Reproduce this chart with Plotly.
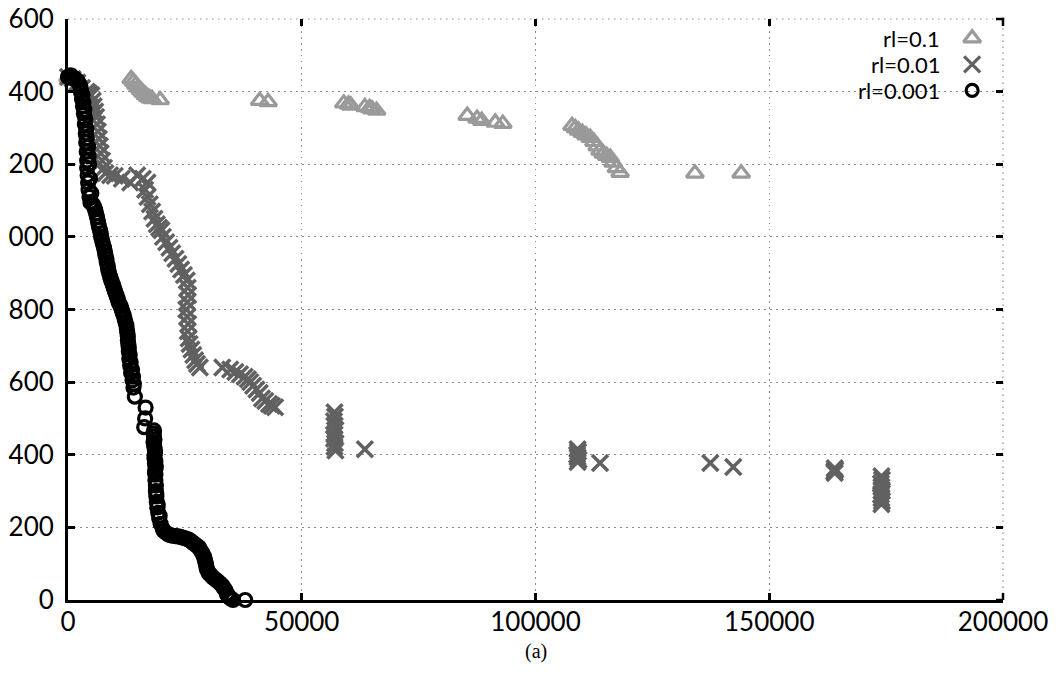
import plotly.graph_objects as go

# ---------------- data ----------------
# rl=0.1 (triangles)
tri_x = [0, 500, 1000, 13500, 14000, 14500, 15000, 15500, 16000, 16500, 17000, 17500, 18000,
         19700, 41000, 42800, 59000, 60000, 60500, 63500, 64500, 65000, 66000,
         85400, 87500, 88500, 91400, 93000,
         107800, 108500, 109200, 110000, 110800, 111700, 112500, 113200, 113800, 114500,
         115200, 116000, 116600, 117300, 118100,
         134100, 144000]
tri_y = [1440, 1435, 1430, 1435, 1428, 1420, 1412, 1405, 1398, 1392, 1386, 1382, 1380,
         1377, 1375, 1372, 1368, 1365, 1362, 1358, 1355, 1352, 1348,
         1334, 1326, 1320, 1315, 1312,
         1306, 1300, 1293, 1287, 1280, 1273, 1262, 1250, 1238, 1230,
         1224, 1218, 1205, 1190, 1177,
         1175, 1175]

# rl=0.01 (crosses)
crs_x = [0, 1000, 2000, 3000, 4000, 4500, 5000, 5300, 5500, 5800, 6000, 6200, 6400, 6600,
         6800, 7000, 7300, 7700, 8000, 9000, 10000, 11500, 13300, 14800, 16000, 17000,
         16500, 17000, 17500, 18000, 18500, 19000, 19500, 20000, 20300, 21000, 21700, 22300,
         23000, 23600, 24200, 24800, 25400, 25600, 25700, 25500, 25300, 25500, 25700, 25600,
         25800, 26000, 26400, 26800, 27200, 27600, 28200,
         33000, 34700, 35800, 36800, 37800, 38500, 39000, 39600, 40300, 41000, 41500, 42200,
         43000, 43600, 44300,
         57000, 57100, 56900, 57000, 57200, 57000, 56900, 57100, 57000, 57200, 63500,
         109000, 109100, 108900, 109000, 109200, 109000,
         113800, 137400, 142300,
         164000, 164100, 163900, 164000,
         174000, 174100, 173900, 174000, 174100, 173900, 174000, 174100, 174000]
crs_y = [1440, 1435, 1425, 1410, 1400, 1395, 1390, 1375, 1360, 1345, 1330, 1310, 1290, 1270,
         1250, 1230, 1210, 1190, 1175, 1170, 1168, 1160, 1150, 1170, 1160, 1150,
         1130, 1110, 1090, 1070, 1050, 1035, 1025, 1018, 1000, 985, 970, 955,
         940, 925, 910, 895, 880, 860, 840, 820, 800, 780, 760, 740,
         720, 705, 690, 675, 660, 650, 640,
         640, 635, 628, 622, 615, 608, 600, 590, 580, 570, 555, 548,
         540, 535, 531,
         517, 505, 492, 480, 468, 456, 444, 432, 422, 412, 415,
         415, 408, 400, 393, 386, 380,
         377, 377, 366,
         363, 358, 354, 350,
         341, 331, 321, 311, 300, 290, 280, 272, 264]

# rl=0.001 (circles)
cir_x = [0, 500, 1000, 1500, 2000, 2500, 2800, 3000, 3200, 3400, 3600, 3800, 3900, 4000,
         4100, 4100, 4200, 4300, 4400, 4600, 4800, 5300, 5800, 6200, 6600, 7000, 7300, 7700,
         8000, 8300, 8600, 9000, 9400, 9800, 10200, 10600, 11000, 11500, 11900, 12300, 12600,
         12800, 12900, 13000, 13100, 13300, 13500, 13800, 14000, 14300,
         16600, 16500, 16300, 18400, 18400, 18300, 18500, 18600, 18500, 18600, 18700, 18700,
         18700, 18800, 18800, 18900, 19000, 19100, 19300, 19500, 19800, 20300, 21000, 22000,
         23000, 24000, 25000, 26000, 27000, 28000, 28700, 29200, 29500, 29700, 30200, 31000,
         32000, 33000, 33600, 34000, 34300, 34800, 35300, 37900,
         # denser readings along the thick band
         800, 1800, 2700, 3100, 3300, 3500, 3700, 3900, 4000, 4300, 4400, 4500, 4700, 5000,
         5600, 6000, 6400, 6800, 7100, 7500, 7900, 8200, 8500, 8800, 9200, 9600, 10000,
         10400, 10800, 11300, 11700, 12100, 12500, 12700, 12800, 13000, 13200, 13400,
         13700, 13900, 14100, 18300, 18500, 18400, 18600, 18500, 18700, 18800, 18600,
         18900, 19200, 19600, 20500, 21500, 22500, 23500, 24500, 25500, 26500, 27500,
         28300, 29000, 29300, 29600, 30000, 30600, 31500, 32500, 33300, 34100, 34600]
cir_y = [1440, 1445, 1440, 1435, 1430, 1420, 1400, 1380, 1360, 1340, 1310, 1285, 1260, 1235,
         1210, 1190, 1170, 1150, 1130, 1110, 1095, 1090, 1075, 1055, 1030, 1010, 990, 970,
         950, 930, 910, 890, 875, 860, 845, 830, 815, 800, 785, 765, 745,
         725, 705, 685, 665, 645, 625, 605, 585, 560,
         530, 500, 476, 467, 450, 435, 420, 405, 390, 375, 360, 345,
         330, 315, 300, 285, 270, 255, 240, 225, 210, 195, 185, 178,
         176, 174, 170, 165, 155, 145, 130, 115, 100, 85, 72, 62,
         52, 40, 28, 18, 10, 4, 0, 0,
         1438, 1432, 1410, 1390, 1370, 1350, 1325, 1298, 1272, 1248, 1222, 1200, 1160, 1120,
         1082, 1065, 1042, 1020, 1000, 980, 960, 940, 920, 900, 882, 868, 852,
         838, 822, 808, 792, 775, 755, 735, 715, 695, 675, 655,
         635, 615, 595, 458, 442, 428, 412, 398, 382, 368, 352,
         292, 262, 232, 190, 180, 177, 175, 172, 168, 160, 150,
         138, 122, 108, 92, 78, 68, 57, 46, 34, 14, 7]

series_names = ["rl=0.1", "rl=0.01", "rl=0.001"]

x_tick_vals = [0, 50000, 100000, 150000, 200000]
x_tick_text = ["0", "50000", "100000", "150000", "200000"]
y_tick_vals = [0, 200, 400, 600, 800, 1000, 1200, 1400, 1600]
y_tick_text = ["0", "200", "400", "600", "800", "000", "200", "400", "600"]

# ---------------- styles ----------------
C_TRI = "#9a9a9a"
C_CRS = "#616161"
C_CIR = "#000000"
FONT = "Lato"
GRID = "#8c8c8c"
GRID_DASH = "1.5px,4.5px"

fig = go.Figure()

fig.add_trace(go.Scatter(x=tri_x, y=tri_y, mode="markers", name=series_names[0],
                         cliponaxis=False,
                         marker=dict(symbol="triangle-up-open", size=15, color=C_TRI,
                                     line=dict(width=3.2, color=C_TRI))))
fig.add_trace(go.Scatter(x=crs_x, y=crs_y, mode="markers", name=series_names[1],
                         cliponaxis=False,
                         marker=dict(symbol="x-thin-open", size=16, color=C_CRS,
                                     line=dict(width=3.5, color=C_CRS))))
fig.add_trace(go.Scatter(x=cir_x, y=cir_y, mode="markers", name=series_names[2],
                         cliponaxis=False,
                         marker=dict(symbol="circle-open", size=13, color=C_CIR,
                                     line=dict(width=3.2, color=C_CIR))))

# empty trace to activate mirrored tick axes (top / right)
fig.add_trace(go.Scatter(x=[], y=[], xaxis="x2", yaxis="y2", showlegend=False,
                         hoverinfo="skip"))

# custom legend (text then symbol, like the reference)
leg_x_text = 0.935
leg_x_key = 0.967
leg_y = [0.967, 0.922, 0.877]
leg_sym = ["triangle-up-open", "x-thin-open", "circle-open"]
leg_col = [C_TRI, C_CRS, C_CIR]
leg_size = [15, 16, 12]
for i in range(3):
    fig.add_trace(go.Scatter(x=[leg_x_key], y=[leg_y[i]], xaxis="x3", yaxis="y3",
                             mode="markers", showlegend=False, cliponaxis=False,
                             hoverinfo="skip",
                             marker=dict(symbol=leg_sym[i], size=leg_size[i],
                                         color=leg_col[i],
                                         line=dict(width=3.2, color=leg_col[i]))))
    fig.add_annotation(x=leg_x_text, y=leg_y[i], xref="paper", yref="paper",
                       text=series_names[i], showarrow=False, xanchor="right",
                       yanchor="middle", font=dict(family=FONT, size=22, color="black"))

fig.add_annotation(x=0.5, y=-0.088, xref="paper", yref="paper", text="(a)",
                   showarrow=False, xanchor="center", yanchor="middle",
                   font=dict(family="Liberation Serif", size=20, color="black"))

# dotted frame on top / right (grid at the range ends) and the corner ticks
frame_dot = dict(color=GRID, width=1.2, dash=GRID_DASH)
fig.add_shape(type="line", xref="paper", yref="paper", x0=0, x1=1, y0=1, y1=1,
              line=frame_dot, layer="below")
fig.add_shape(type="line", xref="paper", yref="paper", x0=1, x1=1, y0=0, y1=1,
              line=frame_dot, layer="below")
fig.add_shape(type="line", xref="paper", yref="paper", x0=0.9925, x1=1.0012, y0=1, y1=1,
              line=dict(color="black", width=2.5))
fig.add_shape(type="line", xref="paper", yref="paper", x0=1, x1=1, y0=0.988, y1=1.002,
              line=dict(color="black", width=2.5))
fig.add_shape(type="line", xref="paper", yref="paper", x0=1, x1=1, y0=0, y1=0.012,
              line=dict(color="black", width=2.5))
fig.add_shape(type="line", xref="paper", yref="paper", x0=0.9925, x1=1, y0=0, y1=0,
              line=dict(color="black", width=2.5))

axis_common = dict(ticks="inside", ticklen=7, tickwidth=2.5, tickcolor="black",
                   zeroline=False)

fig.update_layout(
    width=1063, height=676,
    margin=dict(l=68, r=60, t=19, b=76, autoexpand=False),
    paper_bgcolor="white", plot_bgcolor="white",
    showlegend=False,
    font=dict(family=FONT, size=26, color="black"),
    xaxis=dict(range=[0, 200000], tickvals=x_tick_vals, ticktext=x_tick_text,
               showline=True, linecolor="black", linewidth=3,
               showgrid=True, gridcolor=GRID, griddash=GRID_DASH, gridwidth=1.2,
               ticklabelstandoff=-3, ticklabeloverflow="allow",
               tickfont=dict(family=FONT, size=26), **axis_common),
    yaxis=dict(range=[0, 1600], tickvals=y_tick_vals, ticktext=y_tick_text,
               showline=True, linecolor="black", linewidth=3,
               showgrid=True, gridcolor=GRID, griddash=GRID_DASH, gridwidth=1.2,
               ticklabelstandoff=6, ticklabeloverflow="allow",
               tickfont=dict(family=FONT, size=26), **axis_common),
    xaxis2=dict(overlaying="x", side="top", range=[0, 200000], tickvals=x_tick_vals,
                showticklabels=False, showline=False, showgrid=False, anchor="y2",
                **axis_common),
    yaxis2=dict(overlaying="y", side="right", range=[0, 1600], tickvals=y_tick_vals,
                showticklabels=False, showline=False, showgrid=False, anchor="x2",
                **axis_common),
    xaxis3=dict(overlaying="x", range=[0, 1], visible=False, fixedrange=True),
    yaxis3=dict(overlaying="y", range=[0, 1], visible=False, fixedrange=True,
                anchor="x3"),
)

# remove the default 8px page margin so the figure fills the window exactly
fig.write_html("out.html",
               config={"displayModeBar": False},
               post_script="document.body.style.margin='0';document.body.style.overflow='hidden';")
